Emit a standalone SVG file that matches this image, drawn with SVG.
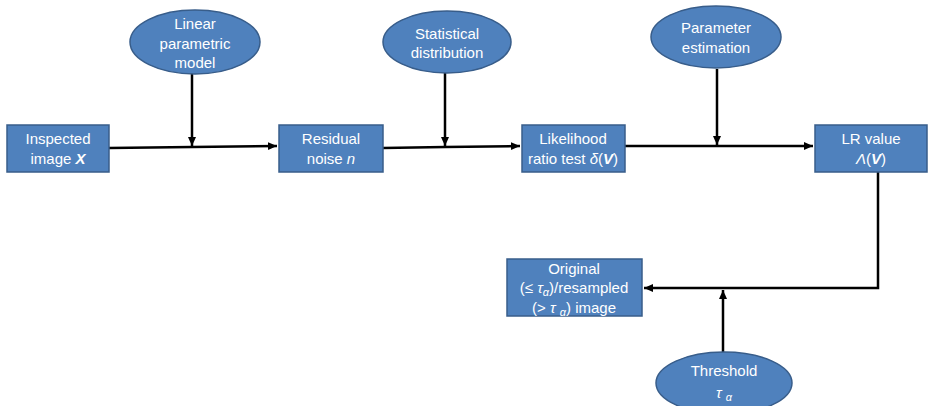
<svg xmlns="http://www.w3.org/2000/svg" width="929" height="406" viewBox="0 0 929 406">
  <style>
    .node { fill: #4F81BD; stroke: #385D8A; stroke-width: 1.5; }
    .label { font-family: "Liberation Sans", Arial, sans-serif; font-size: 15px; fill: #FFFFFF; text-anchor: middle; }
    .it { font-style: italic; }
    .bi { font-style: italic; font-weight: bold; }
    .sub { font-size: 11px; font-style: italic; }
    .wire { fill: none; stroke: #000000; stroke-width: 2.5; }
  </style>
  <defs>
    <marker id="arrow" markerUnits="userSpaceOnUse" markerWidth="10" markerHeight="10" refX="9" refY="5" orient="auto">
      <path d="M0,1 L9,5 L0,9 Z" fill="#000000"/>
    </marker>
  </defs>
  <rect width="929" height="406" fill="#FFFFFF"/>

  <g id="connectors">
    <polyline class="wire" points="109,148 192,147 277,146" marker-end="url(#arrow)"/>
    <line class="wire" x1="192" y1="73" x2="192" y2="146" marker-end="url(#arrow)"/>
    <polyline class="wire" points="383,148 445,147 520,146" marker-end="url(#arrow)"/>
    <line class="wire" x1="445" y1="73" x2="445" y2="146" marker-end="url(#arrow)"/>
    <polyline class="wire" points="625,146 717,146 813,146" marker-end="url(#arrow)"/>
    <line class="wire" x1="717" y1="69" x2="717" y2="145" marker-end="url(#arrow)"/>
    <polyline class="wire" points="878,172 878,288 644,288" marker-end="url(#arrow)"/>
    <line class="wire" x1="723" y1="352" x2="723" y2="290" marker-end="url(#arrow)"/>
  </g>

  <g id="inspected-image">
    <rect class="node" x="7" y="125" width="102" height="47"/>
    <text class="label" x="58" y="144">Inspected</text>
    <text class="label" x="58" y="164">image <tspan class="bi">X</tspan></text>
  </g>

  <g id="linear-model">
    <ellipse class="node" cx="195" cy="42" rx="65" ry="32"/>
    <text class="label" x="195" y="29">Linear</text>
    <text class="label" x="195" y="49">parametric</text>
    <text class="label" x="195" y="68">model</text>
  </g>

  <g id="residual-noise">
    <rect class="node" x="279" y="125" width="104" height="47"/>
    <text class="label" x="331" y="144">Residual</text>
    <text class="label" x="331" y="164">noise <tspan class="it">n</tspan></text>
  </g>

  <g id="statistical-distribution">
    <ellipse class="node" cx="447" cy="42" rx="64" ry="31"/>
    <text class="label" x="447" y="39">Statistical</text>
    <text class="label" x="447" y="58">distribution</text>
  </g>

  <g id="likelihood-ratio-test">
    <rect class="node" x="522" y="125" width="103" height="47"/>
    <text class="label" x="573" y="144">Likelihood</text>
    <text class="label" x="573" y="164">ratio test <tspan class="it">δ</tspan>(<tspan class="bi">V</tspan>)</text>
  </g>

  <g id="parameter-estimation">
    <ellipse class="node" cx="716" cy="37" rx="65" ry="31"/>
    <text class="label" x="716" y="33">Parameter</text>
    <text class="label" x="716" y="53">estimation</text>
  </g>

  <g id="lr-value">
    <rect class="node" x="815" y="125" width="112" height="47"/>
    <text class="label" x="871" y="144">LR value</text>
    <text class="label" x="871" y="164"><tspan class="it">Λ</tspan>(<tspan class="bi">V</tspan>)</text>
  </g>

  <g id="output-image">
    <rect class="node" x="507" y="259" width="135" height="57"/>
    <text class="label" x="574" y="274">Original</text>
    <text class="label" x="574" y="293">(≤ <tspan class="it">τ</tspan><tspan class="sub" dy="3">α</tspan><tspan dy="-3">)/resampled</tspan></text>
    <text class="label" x="574" y="313">(&gt; <tspan class="it">τ</tspan> <tspan class="sub" dy="3">α</tspan><tspan dy="-3">) image</tspan></text>
  </g>

  <g id="threshold">
    <ellipse class="node" cx="724" cy="383" rx="68" ry="31"/>
    <text class="label" x="724" y="376">Threshold</text>
    <text class="label" x="724" y="398"><tspan class="it">τ</tspan> <tspan class="sub" dy="3">α</tspan></text>
  </g>
</svg>
